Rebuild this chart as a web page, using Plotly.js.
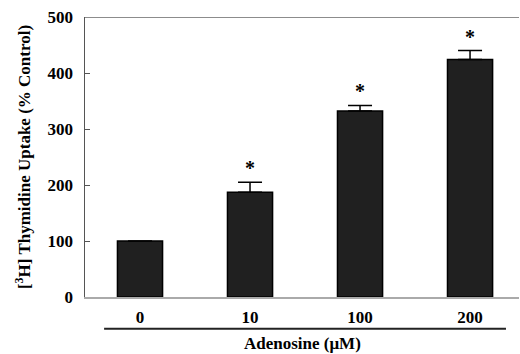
<!DOCTYPE html>
<html>
<head>
<meta charset="utf-8">
<script src="https://cdn.plot.ly/plotly-3.0.1.min.js"></script>
<style>html,body{margin:0;padding:0;background:#fff;}#chart{width:520px;height:354px;}</style>
</head>
<body>
<div id="chart"></div>
<script>
var categories = ['0', '10', '100', '200'];
var values = [100, 187, 332, 424];
var errors = [0, 18, 10, 16];
var significance = ['', '*', '*', '*'];
var yTicks = [0, 100, 200, 300, 400, 500];

var serif = 'Liberation Serif, Times New Roman, serif';

var trace = {
  type: 'bar',
  x: categories,
  y: values,
  width: 0.41,
  marker: {color: '#202020', line: {color: '#000', width: 1.5}},
  error_y: {type: 'data', symmetric: false, array: errors, arrayminus: errors.map(function(){return 0;}), color: '#000', thickness: 1.5, width: 12},
  hoverinfo: 'none'
};

var annotations = [];
categories.forEach(function(c, i) {
  if (significance[i]) {
    annotations.push({x: i, y: values[i] + errors[i], xref: 'x', yref: 'y', text: '<b>' + significance[i] + '</b>', showarrow: false,
      yanchor: 'bottom', yshift: 1, font: {family: serif, size: 20, color: '#000'}});
  }
});
annotations.push({xref: 'paper', yref: 'paper', x: 0.5, y: -0.166, yanchor: 'middle', showarrow: false,
  text: '<b>Adenosine (μM)</b>', font: {family: serif, size: 17, color: '#000'}});

var layout = {
  width: 520, height: 354,
  margin: {l: 85, r: 1, t: 17, b: 57},
  paper_bgcolor: '#fff', plot_bgcolor: '#fff',
  showlegend: false,
  xaxis: {type: 'category', range: [-0.5, 3.445], showgrid: false, zeroline: false,
    showline: true, linecolor: '#aaa', linewidth: 1.5, ticks: '', ticklabelstandoff: 4,
    tickfont: {family: serif, size: 17, color: '#000', weight: 'bold'}},
  yaxis: {range: [0, 500], tickvals: yTicks, showgrid: false, zeroline: false,
    showline: true, linecolor: '#555', linewidth: 1.5, ticks: 'inside', ticklen: 5, tickcolor: '#555',
    ticklabelstandoff: 7,
    tickfont: {family: serif, size: 17, color: '#000', weight: 'bold'},
    title: {text: '[<sup>3</sup>H] Thymidine Uptake (% Control)', standoff: 12,
      font: {family: serif, size: 17, color: '#000', weight: 'bold'}}},
  shapes: [
    {type: 'line', xref: 'paper', yref: 'y', x0: 0, x1: 1, y0: 500, y1: 500, line: {color: '#666', width: 1.5}},
    {type: 'line', xref: 'paper', yref: 'paper', x0: 0.044, x1: 0.970, y0: -0.113, y1: -0.113, line: {color: '#222', width: 2}}
  ],
  annotations: annotations
};

Plotly.newPlot('chart', [trace], layout, {staticPlot: true, displayModeBar: false});
</script>
</body>
</html>
